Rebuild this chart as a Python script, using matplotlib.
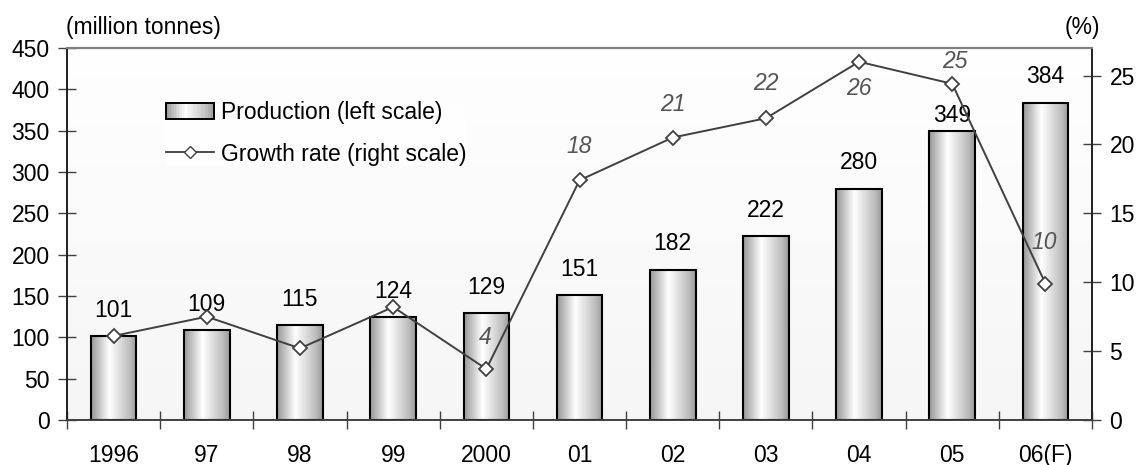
import numpy as np
import matplotlib
matplotlib.use("Agg")
import matplotlib.pyplot as plt
from matplotlib.patches import Rectangle
from matplotlib.lines import Line2D
from matplotlib.legend_handler import HandlerBase
from matplotlib.colors import LinearSegmentedColormap

plt.rcParams['font.family'] = ['Liberation Sans', 'DejaVu Sans']

years = ['1996', '97', '98', '99', '2000', '01', '02', '03', '04', '05', '06(F)']
production = [101, 109, 115, 124, 129, 151, 182, 222, 280, 349, 384]
growth = [6.1, 7.5, 5.2, 8.2, 3.7, 17.4, 20.5, 21.9, 26.0, 24.4, 9.9]
# growth labels (None = not labelled)
growth_labels = [None, None, None, None, '4', '18', '21', '22', '26', '25', '10']

FS = 16.5

# cylinder-like shading for the bars
shade = LinearSegmentedColormap.from_list(
    'cyl', [(0.0, '#989898'), (0.4, '#ffffff'), (0.85, '#bdbdbd'), (1.0, '#999999')])
grad = np.linspace(0, 1, 64).reshape(1, -1)


class GradientHandler(HandlerBase):
    def create_artists(self, legend, orig, xd, yd, w, h, fs, trans):
        arts = []
        n = 30
        for i in range(n):
            r = Rectangle((xd + w * i / n, yd), w / n + 0.3, h,
                          facecolor=shade((i + 0.5) / n), edgecolor='none', transform=trans)
            arts.append(r)
        arts.append(Rectangle((xd, yd), w, h, facecolor='none', edgecolor='black',
                              lw=1.4, transform=trans))
        return arts


fig = plt.figure(figsize=(11.36, 4.65), dpi=100)
ax = fig.add_axes([0.059, 0.0968, 0.9023, 0.8])
ax2 = ax.twinx()

x = np.arange(len(years))
bw = 0.49

# plot background, slightly grey towards the bottom
bg = np.linspace(0.995, 0.96, 100).reshape(-1, 1)
ax.imshow(bg, cmap='gray', vmin=0, vmax=1, extent=[-0.5, len(years) - 0.5, 0, 450],
          aspect='auto', origin='upper', zorder=0)

bars = ax.bar(x, production, width=bw, facecolor='none', edgecolor='black', lw=1.5, zorder=3)
for b in bars:
    ax.imshow(grad, cmap=shade, extent=[b.get_x(), b.get_x() + b.get_width(), 0, b.get_height()],
              aspect='auto', zorder=2)

for xi, v in zip(x, production):
    off = 11.5 if v == 349 else 18.5
    ax.annotate(str(v), (xi, v), xytext=(0, off), textcoords='offset points',
                ha='center', va='center', fontsize=FS, zorder=5)

ax.set_xlim(-0.5, len(years) - 0.5)
ax.set_ylim(0, 450)
ax2.set_ylim(0, 27)

ax2.plot(x, growth, color='#404040', lw=1.4, marker='D', markersize=7,
         markerfacecolor='white', markeredgecolor='#404040', markeredgewidth=1.3, zorder=4)

# growth label placement: (dx, dy) in points
label_offsets = {'4': (-1, 23), '18': (0, 24.5), '21': (0, 24), '22': (0, 25), '26': (0, -19),
                 '25': (2, 16), '10': (-1, 29.5)}
for xi, g, lab in zip(x, growth, growth_labels):
    if lab is None:
        continue
    dx, dy = label_offsets[lab]
    ax2.annotate(lab, (xi, g), xytext=(dx, dy), textcoords='offset points',
                 ha='center', va='center', fontsize=FS, style='italic', color='#555555')

ax.set_yticks(np.arange(0, 451, 50))
ax2.set_yticks(np.arange(0, 26, 5))
ax.set_xticks(x)
ax.set_xticklabels(years)
ax.set_xticks(np.arange(-0.5, len(years)), minor=True)

ax.tick_params(axis='x', which='major', length=0, pad=17, labelsize=FS)
ax.tick_params(axis='x', which='minor', direction='inout', length=13, width=1, color='#404040')
ax.tick_params(axis='y', direction='inout', length=13, width=1, pad=6, labelsize=FS, color='#404040')
ax2.tick_params(axis='y', direction='inout', length=13, width=1, pad=6, labelsize=FS, color='#404040')

for a in (ax, ax2):
    a.spines['top'].set_color('#808080')
    a.spines['top'].set_linewidth(1.5)
    a.spines['left'].set_color('#202020')
    a.spines['right'].set_color('#202020')
    a.spines['bottom'].set_color('#404040')
    a.spines['left'].set_linewidth(1.2)
    a.spines['right'].set_linewidth(1.2)
    a.spines['bottom'].set_linewidth(1.2)

handles = [Rectangle((0, 0), 1, 1),
           Line2D([], [], color='#404040', lw=1.3, marker='D', markersize=6,
                  markerfacecolor='white', markeredgecolor='#404040')]
leg = ax.legend(handles, ['Production (left scale)', 'Growth rate (right scale)'],
                handler_map={Rectangle: GradientHandler()}, loc='upper left',
                bbox_to_anchor=(0.0966, 0.857), fontsize=FS, frameon=True, fancybox=False,
                handlelength=2.1, handleheight=0.7, handletextpad=0.3, labelspacing=0.8,
                borderaxespad=0, borderpad=0)
leg.get_frame().set_facecolor('#ffffff')
leg.get_frame().set_edgecolor('none')
leg.set_zorder(6)

fig.text(0.058, 0.94, '(million tonnes)', fontsize=FS, ha='left', va='center')
fig.text(0.968, 0.94, '(%)', fontsize=FS, ha='right', va='center')

fig.savefig('out.png', dpi=100)
